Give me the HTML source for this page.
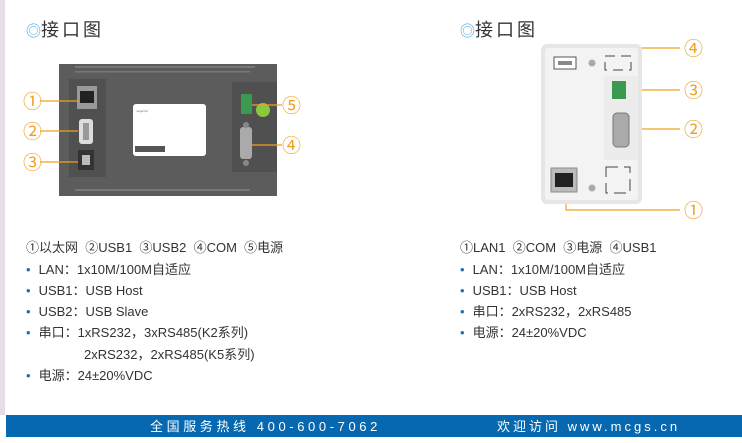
<!DOCTYPE html>
<html><head><meta charset="utf-8"><style>
body{margin:0;width:742px;height:443px;background:#fff;position:relative;overflow:hidden;font-family:"Liberation Sans","Noto Sans CJK SC",sans-serif;color:#333}
.t{position:absolute;font-size:13px;white-space:nowrap;line-height:16px}
.h{position:absolute;font-size:18px;color:#333;letter-spacing:3px}
.h span{color:#4aa8e0;font-size:15px;letter-spacing:0}
.b{color:#1a6fb8;margin-right:8px}
</style></head><body>
<div style="position:absolute;left:0;top:0;width:5px;height:415px;background:#e4dfe6"></div>
<div class="h" style="left:26px;top:16px"><span>◎</span>接口图</div>
<div class="h" style="left:460px;top:16px"><span>◎</span>接口图</div>
<svg style="position:absolute;left:0;top:0" width="742" height="443">
<rect x="59" y="64" width="218" height="132" fill="#5c5c5c"/>
<rect x="75" y="66" width="180" height="2" fill="#777"/><rect x="75" y="71" width="175" height="1.5" fill="#777"/>
<rect x="75" y="189" width="175" height="2" fill="#777"/>
<rect x="69" y="79" width="37" height="98" fill="#505050"/>
<rect x="232" y="82" width="45" height="90" fill="#505050"/>
<rect x="77" y="86" width="20" height="23" fill="#999"/><rect x="80" y="91" width="14" height="12" fill="#222"/>
<rect x="79" y="119" width="14" height="25" rx="3" fill="#ddd"/><rect x="83" y="123" width="6" height="17" fill="#999"/>
<rect x="78" y="150" width="16" height="20" fill="#333"/><rect x="82" y="155" width="8" height="10" fill="#bbb"/>
<rect x="133" y="104" width="73" height="52" rx="3" fill="#fff"/>
<rect x="135" y="146" width="30" height="6" fill="#555"/>
<g fill="#666" font-size="3"><text x="136" y="112">mcgsTpc</text></g>
<rect x="241" y="94" width="11" height="20" fill="#3a9a50"/>
<circle cx="263" cy="110" r="7" fill="#8cc83c"/>
<rect x="240" y="127" width="12" height="32" rx="3" fill="#aaa"/><circle cx="246" cy="125" r="3" fill="#888"/><circle cx="246" cy="163" r="3" fill="#888"/>
<g stroke="#f0a020" stroke-width="1.2" fill="none">
<line x1="40" y1="101" x2="78" y2="101"/><line x1="40" y1="131" x2="78" y2="131"/><line x1="40" y1="162" x2="78" y2="162"/>
<line x1="252" y1="105" x2="282" y2="105"/><line x1="252" y1="145" x2="282" y2="145"/>
<polyline points="566,63 566,48 680,48"/><polyline points="627,90 680,90"/><polyline points="631,129 680,129"/><polyline points="566,180 566,210 680,210"/>
</g>
<g fill="#f0a020" font-size="19" font-family="Noto Sans CJK SC,sans-serif">
<text x="23" y="108">①</text><text x="23" y="138">②</text><text x="23" y="169">③</text><text x="282" y="112">⑤</text><text x="282" y="152">④</text>
<text x="684" y="55">④</text><text x="684" y="97">③</text><text x="684" y="136">②</text><text x="684" y="217">①</text>
</g>
<rect x="541" y="44" width="101" height="160" rx="6" fill="#e6e6e6"/>
<rect x="545" y="48" width="93" height="152" rx="3" fill="#f3f3f3"/>
<rect x="554" y="57" width="22" height="12" fill="#fff" stroke="#555"/><rect x="558" y="61" width="14" height="4" fill="#888"/>
<circle cx="592" cy="63" r="3.5" fill="#aaa"/><circle cx="592" cy="188" r="3.5" fill="#aaa"/>
<rect x="605" y="56" width="26" height="14" fill="none" stroke="#444" stroke-dasharray="10 6"/>
<rect x="604" y="76" width="34" height="84" fill="#ececec"/>
<rect x="612" y="81" width="14" height="18" fill="#3a9a50"/>
<rect x="613" y="113" width="16" height="34" rx="4" fill="#aaa" stroke="#777"/>
<rect x="551" y="168" width="26" height="24" fill="#bbb" stroke="#888"/><rect x="555" y="173" width="18" height="14" fill="#222"/>
<rect x="606" y="167" width="24" height="26" fill="none" stroke="#444" stroke-dasharray="12 6"/>
<rect x="6" y="415" width="736" height="22" fill="#0568b0"/>
<text x="150" y="431" fill="#fff" font-size="13" letter-spacing="3.6">全国服务热线 400-600-7062</text>
<text x="497" y="431" fill="#fff" font-size="13" letter-spacing="3">欢迎访问 www.mcgs.cn</text>
</svg>
<div class="t" style="left:26px;top:240px">①以太网 &nbsp;②USB1 &nbsp;③USB2 &nbsp;④COM &nbsp;⑤电源</div>
<div class="t" style="left:26px;top:262px"><span class="b">•</span>LAN：1x10M/100M自适应</div>
<div class="t" style="left:26px;top:283px"><span class="b">•</span>USB1：USB Host</div>
<div class="t" style="left:26px;top:304px"><span class="b">•</span>USB2：USB Slave</div>
<div class="t" style="left:26px;top:325px"><span class="b">•</span>串口：1xRS232，3xRS485(K2系列)</div>
<div class="t" style="left:84px;top:347px">2xRS232，2xRS485(K5系列)</div>
<div class="t" style="left:26px;top:368px"><span class="b">•</span>电源：24±20%VDC</div>
<div class="t" style="left:460px;top:240px">①LAN1 &nbsp;②COM &nbsp;③电源 &nbsp;④USB1</div>
<div class="t" style="left:460px;top:262px"><span class="b">•</span>LAN：1x10M/100M自适应</div>
<div class="t" style="left:460px;top:283px"><span class="b">•</span>USB1：USB Host</div>
<div class="t" style="left:460px;top:304px"><span class="b">•</span>串口：2xRS232，2xRS485</div>
<div class="t" style="left:460px;top:325px"><span class="b">•</span>电源：24±20%VDC</div>
</body></html>
